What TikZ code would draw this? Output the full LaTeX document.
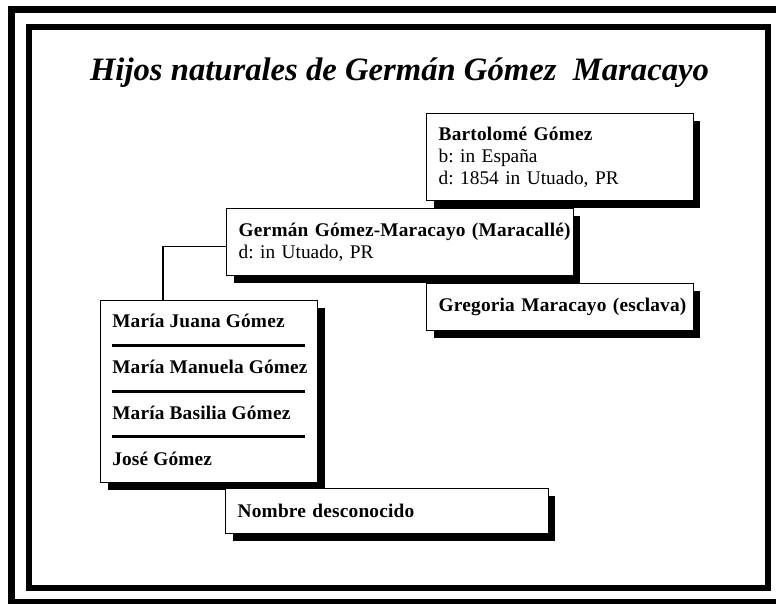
\documentclass[tikz,border=0pt]{standalone}
\usepackage{fontspec}
\setmainfont{Liberation Serif}[BoldFeatures={LetterSpace=1}]
\usetikzlibrary{calc, shadows}
\newcommand{\headline}[1]{\mbox{\textbf{#1}}}

\begin{document}
\begin{tikzpicture}[x=0.75pt,y=-0.75pt,
    personbox/.style={draw, line width=1.1pt, fill=white, anchor=north west, align=left,
        inner xsep=9pt, inner ysep=0pt, font=\fontsize{14.5pt}{16.2pt}\selectfont\frenchspacing,
        drop shadow={shadow xshift=5.25pt, shadow yshift=-5.25pt, fill=black, opacity=1}},
    kidname/.style={anchor=base west, inner sep=0pt, font=\fontsize{14.5pt}{16.2pt}\selectfont\bfseries},
    divider/.style={line width=2.25pt},
    link/.style={line width=1pt}]
            \useasboundingbox (0,0) rectangle (776,604);
            \draw[line width=5.25pt] (11.5,9.5) rectangle (790,602.5);
            \draw[line width=4.5pt] (29,27) rectangle (768,588);
            \node[anchor=base, inner sep=0pt, font=\fontsize{24.5pt}{28pt}\selectfont\bfseries\itshape] (title) at (399.5,80) {Hijos naturales de Germán Gómez\ \ Maracayo};
            \node[personbox, text width=182pt, minimum height=65.25pt] (bart) at (426,113) {\headline{Bartolomé Gómez}\\b: in España\\d: 1854 in Utuado, PR};
            \node[personbox, text width=242pt, minimum height=50.25pt] (germ) at (226,208) {\headline{Germán Gómez-Maracayo (Maracallé)}\\d: in Utuado, PR};
            \node[personbox, text width=182pt, minimum height=35.25pt] (greg) at (426,283) {\headline{Gregoria Maracayo (esclava)}};
            \node[personbox, minimum width=162.75pt, minimum height=136.5pt] (sibs) at (100,300) {};
            \foreach \kid [count=\i] in {María Juana Gómez, María Manuela Gómez, María Basilia Gómez, José Gómez}
                \node[kidname] (kid\i) at (112,{281+46*\i}) {\kid};
            \foreach \y in {345,391,436}
                \draw[divider] (112,\y)--(305,\y);
            \node[personbox, text width=224pt, minimum height=33.75pt] (unkn) at (225,488) {\headline{Nombre desconocido}};
            \draw[link] ($(germ.west)+(0,4.5)$) -| ($(sibs.north west)+(63,0)$);
        \end{tikzpicture}
\end{document}
